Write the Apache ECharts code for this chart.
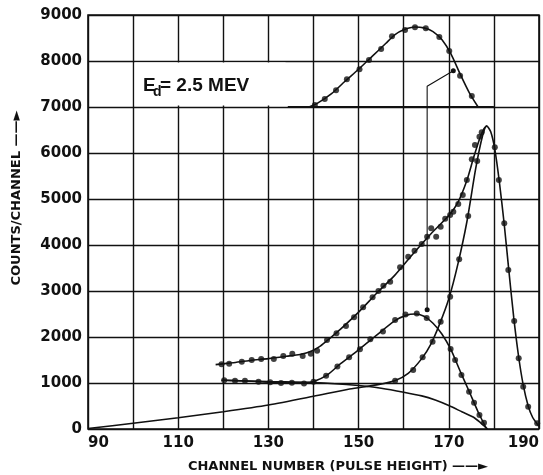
<!DOCTYPE html>
<html>
<head>
<meta charset="utf-8">
<script src="https://cdn.jsdelivr.net/npm/echarts@6/dist/echarts.min.js"></script>
<style>
  html, body { margin: 0; padding: 0; background: #fff; }
  #main { width: 543px; height: 475px; }
</style>
</head>
<body>
<div id="main"></div>
<script>
// x ticks (channel) and y ticks (counts)
var xTicks = [90, 110, 130, 150, 170, 190];
var yTicks = [0, 1000, 2000, 3000, 4000, 5000, 6000, 7000, 8000, 9000];

// upper curve
var upperDots = [[119.6,1407],[121.3,1420],[124.1,1463],[126.3,1500],[128.4,1522],[131.2,1522],[133.3,1587],[135.3,1637],[137.6,1587],[139.4,1637],[140.8,1702],[143.0,1935],[145.1,2080],[147.2,2239],[149.0,2428],[151.0,2646],[153.1,2863],[154.4,3000],[155.5,3115],[157.0,3202],[159.2,3515],[161.0,3746],[162.4,3876],[164.0,4020],[165.2,4180],[166.1,4363],[167.2,4180],[168.2,4398],[169.2,4572],[170.3,4652],[171.0,4724],[172.1,4891],[173.1,5087],[174.0,5413],[175.1,5863],[175.8,6174],[176.8,6354],[177.3,6450]];
var upperLine = [[118.3,1400],[122,1440],[126,1490],[130,1530],[134,1580],[137,1620],[139.5,1690],[141.5,1800],[143.5,1960],[146,2170],[150,2540],[154,2950],[158,3340],[162,3800],[166,4240],[170,4640],[172,4920],[174,5400],[175.5,5900],[176.8,6300],[177.8,6530],[178.4,6590]];

// middle curve
var middleDots = [[120.2,1059],[122.6,1050],[124.8,1050],[127.8,1028],[130.4,1015],[132.8,1000],[135.2,1007],[137.9,990],[140.0,1028],[142.8,1160],[145.3,1360],[147.9,1559],[150.3,1733],[152.6,1950],[155.4,2120],[158.1,2370],[160.4,2490],[162.9,2510],[165.1,2415],[170.4,1739],[171.4,1500],[172.8,1174],[174.5,811],[175.6,572],[176.8,304],[177.8,137]];
var middleLine = [[119.6,1060],[125,1045],[130,1020],[135,1005],[138,1002],[140,1030],[143,1170],[146,1420],[150,1720],[154,2040],[158,2350],[160.5,2470],[162.5,2500],[164.5,2450],[166.5,2300],[168.5,2060],[170.5,1720],[172.5,1260],[174.5,820],[176.5,370],[178.4,0]];

// narrow peak (with background rise)
var peakDots = [[158.1,1050],[162.1,1283],[164.2,1559],[166.4,1898],[168.2,2333],[170.3,2876],[172.3,3690],[174.3,4630],[176.3,5826],[180.2,6124],[181.1,5413],[182.3,4471],[183.2,3457],[184.5,2348],[185.5,1537],[186.5,920],[187.6,485],[189.6,124]];
var peakLine = [[90,10],[100,125],[110,245],[120,375],[130,520],[140,710],[148,870],[154,960],[158,1050],[161,1210],[164,1530],[166,1840],[168,2290],[170,2830],[172,3580],[174,4500],[176,5680],[177.5,6380],[178.4,6590],[179.3,6460],[180.2,6080],[181.2,5380],[182.3,4440],[183.3,3460],[184.4,2420],[185.5,1560],[186.5,960],[187.6,500],[188.6,250],[189.6,110],[190,60]];

// tail
var tailLine = [[120,1060],[130,1030],[140,1010],[150,945],[155,885],[160,800],[164,720],[167,630],[170,510],[173,370],[175.4,260],[177,140],[178.6,0]];

// inset (baseline 7000)
var insetDots = [[140.3,7043],[142.5,7174],[145.0,7363],[147.4,7602],[150.2,7820],[152.3,8022],[155.0,8261],[157.4,8537],[160.3,8674],[162.5,8733],[164.9,8711],[167.9,8522],[170.1,8217],[172.5,7680],[175.1,7239]];
var insetLine = [[139,7000],[141,7090],[144,7290],[147,7560],[150,7820],[153,8100],[156,8380],[158,8570],[160,8680],[162.5,8740],[164.5,8720],[166.5,8640],[168.5,8460],[170.5,8150],[172.5,7720],[174.5,7320],[176.5,7000]];
var insetBase = [[134.3,7000],[180,7000]];
var pointer = [[171,7790],[165.2,7450],[165.2,2590]];

var ink = '#111';
var font = 'DejaVu Sans';

var chart = echarts.init(document.getElementById('main'));

function curve(data) {
    return { type: 'line', data: data, smooth: 0.25, showSymbol: false,
             lineStyle: { color: ink, width: 1.6 }, silent: true, z: 3 };
}
function dots(data) {
    return { type: 'scatter', data: data, symbolSize: 6, itemStyle: { color: ink }, silent: true, z: 4 };
}

var option = {
    animation: false,
    backgroundColor: '#fff',
    grid: { left: 88, right: 4, top: 15, bottom: 46, show: true, borderColor: ink, borderWidth: 1.6, backgroundColor: 'transparent' },
    xAxis: {
        type: 'value', min: 90, max: 190, interval: 10,
        axisLine: { show: false }, axisTick: { show: false },
        splitLine: { lineStyle: { color: ink, width: 1.4 } },
        axisLabel: {
            color: ink, fontFamily: font, fontSize: 15, fontWeight: 'bold', margin: 7,
            alignMinLabel: 'left', alignMaxLabel: 'right',
            formatter: function (v) { return xTicks.indexOf(v) >= 0 ? String(v) : ''; }
        }
    },
    yAxis: {
        type: 'value', min: 0, max: 9000, interval: 1000,
        axisLine: { show: false }, axisTick: { show: false },
        splitLine: { lineStyle: { color: ink, width: 1.4 } },
        axisLabel: {
            color: ink, fontFamily: font, fontSize: 15, fontWeight: 'bold', margin: 6,
            formatter: function (v) { return yTicks.indexOf(v) >= 0 ? String(v) : ''; }
        }
    },
    series: [
        curve(upperLine), dots(upperDots),
        curve(middleLine), dots(middleDots),
        curve(peakLine), dots(peakDots),
        curve(tailLine),
        curve(insetLine), dots(insetDots),
        {
            type: 'line', data: insetBase, showSymbol: false, silent: true, z: 3,
            lineStyle: { color: ink, width: 2.2 },
            markArea: {
                silent: true,
                itemStyle: { color: '#fff' },
                data: [[{ coord: [100.35, 7030] }, { coord: [133.8, 7970] }]]
            }
        },
        {
            type: 'line', silent: true, z: 3,
            data: pointer.map(function (p, i) {
                return { value: p, symbol: i === 1 ? 'none' : 'circle', symbolSize: 5 };
            }),
            showSymbol: true, itemStyle: { color: ink },
            lineStyle: { color: ink, width: 1.1 }
        }
    ],
    graphic: [
        { type: 'text', left: 143, top: 76, z: 10,
          style: { text: 'E', font: 'bold 19px "Liberation Sans"', fill: ink } },
        { type: 'text', left: 153, top: 85, z: 10,
          style: { text: 'd', font: 'bold 14px "Liberation Sans"', fill: ink } },
        { type: 'text', left: 160, top: 76, z: 10,
          style: { text: '= 2.5 MEV', font: 'bold 19px "Liberation Sans"', fill: ink } },
        { type: 'text', x: 17, y: 198, rotation: Math.PI / 2, z: 10,
          style: { text: 'COUNTS/CHANNEL ——►', font: 'bold 13px "DejaVu Sans"', fill: ink,
                   textAlign: 'center', textVerticalAlign: 'middle' } },
        { type: 'text', x: 338, y: 467, z: 10,
          style: { text: 'CHANNEL NUMBER (PULSE HEIGHT) ——►', font: 'bold 13px "DejaVu Sans"', fill: ink,
                   textAlign: 'center', textVerticalAlign: 'middle' } }
    ]
};

chart.setOption(option);
</script>
</body>
</html>
